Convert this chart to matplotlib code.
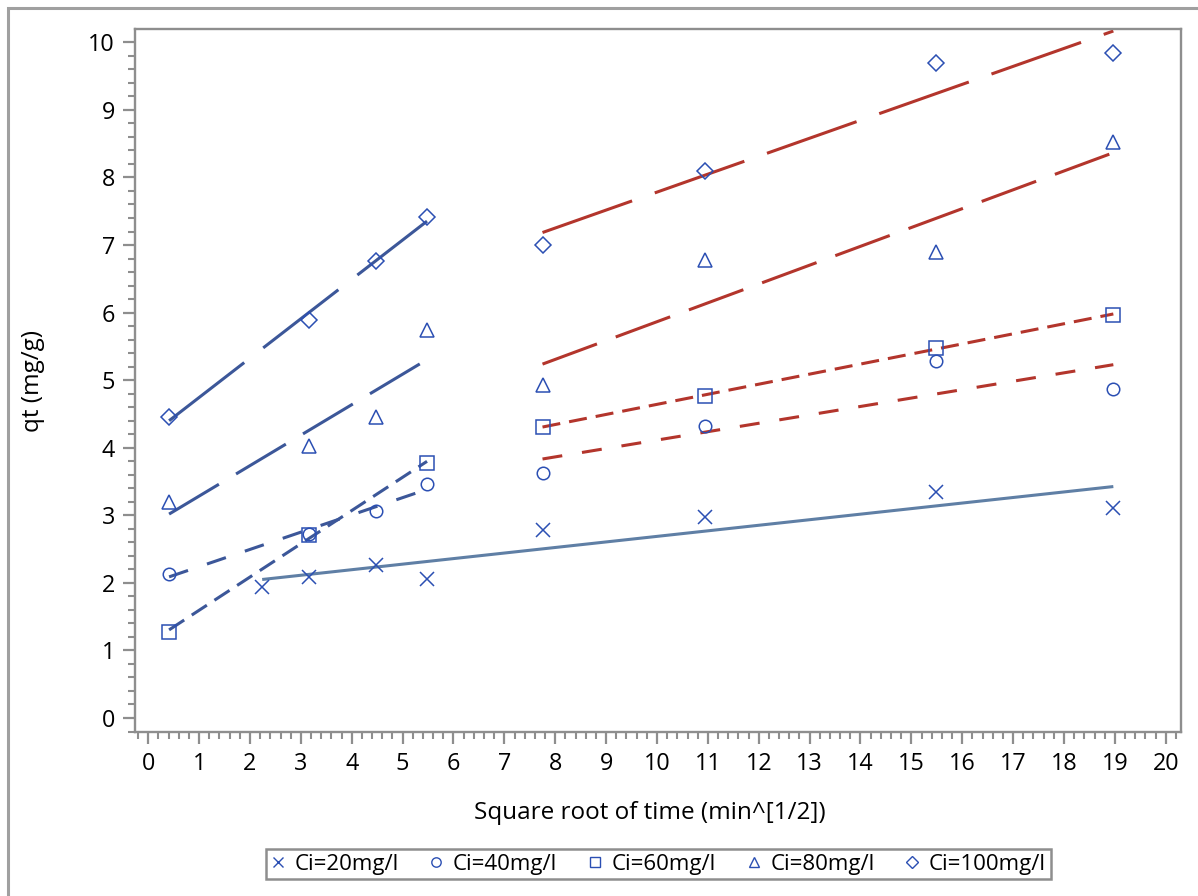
import numpy as np
import matplotlib
matplotlib.use("Agg")
import matplotlib.pyplot as plt
from matplotlib.lines import Line2D
from matplotlib.patches import Rectangle
from matplotlib.ticker import MultipleLocator

plt.rcParams['font.family'] = ['Open Sans', 'DejaVu Sans']
plt.rcParams['lines.scale_dashes'] = False

# ---- data ----
labels = ["Ci=20mg/l", "Ci=40mg/l", "Ci=60mg/l", "Ci=80mg/l", "Ci=100mg/l"]

x20 = [2.24, 3.16, 4.47, 5.48, 7.75, 10.95, 15.49, 18.97]
y20 = [1.94, 2.09, 2.27, 2.05, 2.78, 2.97, 3.35, 3.11]

x40 = [0.41, 3.16, 4.47, 5.48, 7.75, 10.95, 15.49, 18.97]
y40 = [2.13, 2.73, 3.06, 3.47, 3.62, 4.32, 5.28, 4.87]

x60 = [0.41, 3.16, 5.48, 7.75, 10.95, 15.49, 18.97]
y60 = [1.28, 2.71, 3.77, 4.31, 4.77, 5.48, 5.97]

x80 = [0.41, 3.16, 4.47, 5.48, 7.75, 10.95, 15.49, 18.97]
y80 = [3.20, 4.03, 4.46, 5.74, 4.93, 6.78, 6.89, 8.53]

x100 = [0.41, 3.16, 4.47, 5.48, 7.75, 10.95, 15.49, 18.97]
y100 = [4.45, 5.89, 6.77, 7.41, 7.00, 8.10, 9.69, 9.84]

stage_split = 6.5  # stage 1: sqrt(t) < split, stage 2: sqrt(t) > split

xticks = list(range(0, 21))
yticks = list(range(0, 11))

# ---- styles ----
MARKER_C = "#2b4fb3"
BLUE_LINE = "#3c5799"
STEEL_LINE = "#5f7fa5"
RED_LINE = "#b3352c"
GRAY = "#8e8e8e"

markers = ['x', 'o', 's', '^', 'D']
msizes = [9.4, 9.0, 9.4, 9.4, 8.0]
dashes = [None, (14.4, 14.4), (13.0, 6.5), (41.8, 14.4), (68.4, 17.3)]

series = [(x20, y20), (x40, y40), (x60, y60), (x80, y80), (x100, y100)]

fig = plt.figure(figsize=(11.98, 8.96), dpi=100)
W, H = 1198.0, 896.0
ax = fig.add_axes([135 / W, 1 - 732 / H, (1181 - 135) / W, (732 - 29) / H])

# outer border
fig.patches.append(Rectangle((8 / W, -0.2), 2.0, 1.2 - 8 / H, transform=fig.transFigure,
                             fill=False, edgecolor="#a0a0a0", linewidth=2.2, zorder=0))


def fit_line(xs, ys, color, dash):
    xs = np.asarray(xs, float)
    ys = np.asarray(ys, float)
    k, b = np.polyfit(xs, ys, 1)
    xx = np.array([xs.min(), xs.max()])
    ln, = ax.plot(xx, k * xx + b, color=color, linewidth=2.2,
                  solid_capstyle='butt', dash_capstyle='butt', zorder=2)
    if dash is not None:
        ln.set_dashes(dash)


# regression lines
for i, (xs, ys) in enumerate(series):
    xs = np.asarray(xs)
    ys = np.asarray(ys)
    if i == 0:
        fit_line(xs, ys, STEEL_LINE, None)
    else:
        m1 = xs < stage_split
        m2 = xs > stage_split
        fit_line(xs[m1], ys[m1], BLUE_LINE, dashes[i])
        fit_line(xs[m2], ys[m2], RED_LINE, dashes[i])

# markers
for i, (xs, ys) in enumerate(series):
    ax.plot(xs, ys, linestyle='none', marker=markers[i], markersize=msizes[i],
            markerfacecolor='none', markeredgecolor=MARKER_C, markeredgewidth=1.1,
            zorder=3)

ax.set_xlim(-0.26, 20.30)
ax.set_ylim(-0.207, 10.197)
ax.set_xticks(xticks)
ax.set_yticks(yticks)
ax.xaxis.set_minor_locator(MultipleLocator(0.2))
ax.yaxis.set_minor_locator(MultipleLocator(0.2))
ax.tick_params(axis='both', which='major', length=8.3, width=1.6, color=GRAY,
               labelsize=16.8, pad=6, labelcolor='black')
ax.tick_params(axis='both', which='minor', length=5.0, width=1.5, color=GRAY)
for sp in ax.spines.values():
    sp.set_color(GRAY)
    sp.set_linewidth(1.7)

fig.text(33 / W, 1 - 380.5 / H, "qt (mg/g)", rotation=90, ha='center', va='center',
         fontsize=17.5)
fig.text(650 / W, 1 - 813 / H, "Square root of time (min^[1/2])", ha='center', va='center',
         fontsize=17.5)

handles = [Line2D([], [], linestyle='none', marker=markers[i], markersize=msizes[i] * 0.75,
                  markerfacecolor='none', markeredgecolor=MARKER_C, markeredgewidth=1.0)
           for i in range(5)]
leg = fig.legend(handles, labels, loc='center', bbox_to_anchor=(658.5 / W, 1 - 864 / H),
                 ncol=5, fontsize=16, frameon=True, fancybox=False, framealpha=1,
                 edgecolor=GRAY, handlelength=0.6, handletextpad=0.45, columnspacing=1.4,
                 borderpad=0.2, borderaxespad=0)
leg.get_frame().set_linewidth(1.8)

fig.savefig("out.png", dpi=100)
